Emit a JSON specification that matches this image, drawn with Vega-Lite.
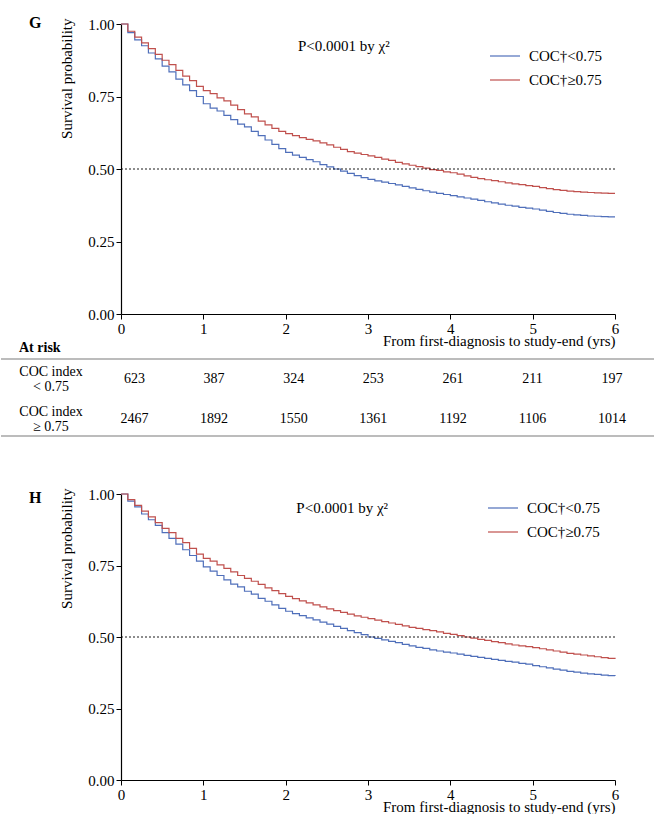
{
  "$schema": "https://vega.github.io/schema/vega-lite/v6.json",
  "autosize": {"type": "pad"},
  "padding": {"top": 15, "left": 0, "right": 0, "bottom": 0},
  "background": "white",
  "bounds": "flush",
  "spacing": 10,
  "resolve": {"scale": {"color": "independent"}, "legend": {"color": "independent"}},
  "config": {
    "font": "Liberation Serif",
    "view": {"stroke": null},
    "axis": {
      "grid": false,
      "domainColor": "black",
      "domainWidth": 1.2,
      "tickColor": "black",
      "tickSize": 5,
      "labelColor": "black",
      "labelFont": "Liberation Serif",
      "labelFontSize": 15,
      "titleFont": "Liberation Serif",
      "titleFontSize": 15,
      "titleFontWeight": "normal",
      "titleColor": "black"
    },
    "legend": {"labelFont": "Liberation Serif", "labelFontSize": 15, "labelColor": "black"},
    "title": {"font": "Liberation Serif"}
  },
  "datasets": {
    "g": [
      {"t": 0, "lo": 1.0, "hi": 1.0},
      {"t": 0.083, "lo": 0.97, "hi": 0.975},
      {"t": 0.167, "lo": 0.945, "hi": 0.955},
      {"t": 0.25, "lo": 0.925, "hi": 0.935},
      {"t": 0.333, "lo": 0.9, "hi": 0.915},
      {"t": 0.417, "lo": 0.88, "hi": 0.895},
      {"t": 0.5, "lo": 0.855, "hi": 0.875},
      {"t": 0.583, "lo": 0.835, "hi": 0.86},
      {"t": 0.667, "lo": 0.81, "hi": 0.84},
      {"t": 0.75, "lo": 0.79, "hi": 0.82},
      {"t": 0.833, "lo": 0.77, "hi": 0.805},
      {"t": 0.917, "lo": 0.75, "hi": 0.785},
      {"t": 1.0, "lo": 0.725, "hi": 0.77},
      {"t": 1.083, "lo": 0.71, "hi": 0.76},
      {"t": 1.167, "lo": 0.7, "hi": 0.745},
      {"t": 1.25, "lo": 0.685, "hi": 0.735},
      {"t": 1.333, "lo": 0.67, "hi": 0.72},
      {"t": 1.417, "lo": 0.655, "hi": 0.705},
      {"t": 1.5, "lo": 0.645, "hi": 0.69},
      {"t": 1.583, "lo": 0.63, "hi": 0.68},
      {"t": 1.667, "lo": 0.615, "hi": 0.665},
      {"t": 1.75, "lo": 0.6, "hi": 0.652},
      {"t": 1.833, "lo": 0.585, "hi": 0.64},
      {"t": 1.917, "lo": 0.57, "hi": 0.63},
      {"t": 2.0, "lo": 0.557, "hi": 0.622},
      {"t": 2.083, "lo": 0.548, "hi": 0.615},
      {"t": 2.167, "lo": 0.54, "hi": 0.608},
      {"t": 2.25, "lo": 0.532, "hi": 0.602},
      {"t": 2.333, "lo": 0.525, "hi": 0.597},
      {"t": 2.417, "lo": 0.515, "hi": 0.59},
      {"t": 2.5, "lo": 0.507, "hi": 0.583},
      {"t": 2.583, "lo": 0.5, "hi": 0.575},
      {"t": 2.667, "lo": 0.493, "hi": 0.568},
      {"t": 2.75, "lo": 0.485, "hi": 0.56},
      {"t": 2.833, "lo": 0.477, "hi": 0.555},
      {"t": 2.917, "lo": 0.47, "hi": 0.55},
      {"t": 3.0, "lo": 0.464, "hi": 0.545},
      {"t": 3.083, "lo": 0.459, "hi": 0.54},
      {"t": 3.167, "lo": 0.455, "hi": 0.534},
      {"t": 3.25, "lo": 0.45, "hi": 0.53},
      {"t": 3.333, "lo": 0.445, "hi": 0.523},
      {"t": 3.417, "lo": 0.44, "hi": 0.518},
      {"t": 3.5, "lo": 0.435, "hi": 0.513},
      {"t": 3.583, "lo": 0.43, "hi": 0.508},
      {"t": 3.667, "lo": 0.425, "hi": 0.503},
      {"t": 3.75, "lo": 0.42, "hi": 0.498},
      {"t": 3.833, "lo": 0.416, "hi": 0.495},
      {"t": 3.917, "lo": 0.412, "hi": 0.49},
      {"t": 4.0, "lo": 0.408, "hi": 0.487},
      {"t": 4.083, "lo": 0.404, "hi": 0.482},
      {"t": 4.167, "lo": 0.4, "hi": 0.476},
      {"t": 4.25, "lo": 0.396, "hi": 0.471},
      {"t": 4.333, "lo": 0.392, "hi": 0.467},
      {"t": 4.417, "lo": 0.387, "hi": 0.463},
      {"t": 4.5, "lo": 0.383, "hi": 0.46},
      {"t": 4.583, "lo": 0.379, "hi": 0.456},
      {"t": 4.667, "lo": 0.375, "hi": 0.452},
      {"t": 4.75, "lo": 0.372, "hi": 0.449},
      {"t": 4.833, "lo": 0.368, "hi": 0.446},
      {"t": 4.917, "lo": 0.365, "hi": 0.443},
      {"t": 5.0, "lo": 0.362, "hi": 0.44},
      {"t": 5.083, "lo": 0.358, "hi": 0.436},
      {"t": 5.167, "lo": 0.354, "hi": 0.432},
      {"t": 5.25, "lo": 0.35, "hi": 0.429},
      {"t": 5.333, "lo": 0.347, "hi": 0.426},
      {"t": 5.417, "lo": 0.344, "hi": 0.424},
      {"t": 5.5, "lo": 0.342, "hi": 0.422},
      {"t": 5.583, "lo": 0.34, "hi": 0.42},
      {"t": 5.667, "lo": 0.338, "hi": 0.419},
      {"t": 5.75, "lo": 0.337, "hi": 0.418},
      {"t": 5.833, "lo": 0.336, "hi": 0.417},
      {"t": 5.917, "lo": 0.335, "hi": 0.416},
      {"t": 6.0, "lo": 0.335, "hi": 0.416}
    ],
    "h": [
      {"t": 0, "lo": 1.0, "hi": 1.0},
      {"t": 0.083, "lo": 0.975, "hi": 0.98},
      {"t": 0.167, "lo": 0.955, "hi": 0.96},
      {"t": 0.25, "lo": 0.93, "hi": 0.94},
      {"t": 0.333, "lo": 0.91, "hi": 0.92},
      {"t": 0.417, "lo": 0.89, "hi": 0.9},
      {"t": 0.5, "lo": 0.865, "hi": 0.88},
      {"t": 0.583, "lo": 0.845, "hi": 0.865},
      {"t": 0.667, "lo": 0.825, "hi": 0.845},
      {"t": 0.75, "lo": 0.805, "hi": 0.83},
      {"t": 0.833, "lo": 0.785, "hi": 0.81},
      {"t": 0.917, "lo": 0.765, "hi": 0.79},
      {"t": 1.0, "lo": 0.745, "hi": 0.775},
      {"t": 1.083, "lo": 0.73, "hi": 0.765},
      {"t": 1.167, "lo": 0.715, "hi": 0.752},
      {"t": 1.25, "lo": 0.7, "hi": 0.74},
      {"t": 1.333, "lo": 0.685, "hi": 0.728},
      {"t": 1.417, "lo": 0.675, "hi": 0.715},
      {"t": 1.5, "lo": 0.66, "hi": 0.705},
      {"t": 1.583, "lo": 0.65, "hi": 0.695},
      {"t": 1.667, "lo": 0.635, "hi": 0.684},
      {"t": 1.75, "lo": 0.625, "hi": 0.672},
      {"t": 1.833, "lo": 0.612, "hi": 0.662},
      {"t": 1.917, "lo": 0.6, "hi": 0.652},
      {"t": 2.0, "lo": 0.59, "hi": 0.642},
      {"t": 2.083, "lo": 0.582, "hi": 0.634},
      {"t": 2.167, "lo": 0.575, "hi": 0.626},
      {"t": 2.25, "lo": 0.567, "hi": 0.619},
      {"t": 2.333, "lo": 0.56, "hi": 0.612},
      {"t": 2.417, "lo": 0.552, "hi": 0.605},
      {"t": 2.5, "lo": 0.545, "hi": 0.598},
      {"t": 2.583, "lo": 0.537, "hi": 0.592},
      {"t": 2.667, "lo": 0.53, "hi": 0.586},
      {"t": 2.75, "lo": 0.522, "hi": 0.58},
      {"t": 2.833, "lo": 0.515, "hi": 0.574},
      {"t": 2.917, "lo": 0.508, "hi": 0.569},
      {"t": 3.0, "lo": 0.5, "hi": 0.564},
      {"t": 3.083, "lo": 0.495, "hi": 0.559},
      {"t": 3.167, "lo": 0.49, "hi": 0.554},
      {"t": 3.25, "lo": 0.485, "hi": 0.549},
      {"t": 3.333, "lo": 0.48, "hi": 0.544},
      {"t": 3.417, "lo": 0.474, "hi": 0.539},
      {"t": 3.5, "lo": 0.469, "hi": 0.534},
      {"t": 3.583, "lo": 0.464, "hi": 0.53},
      {"t": 3.667, "lo": 0.46, "hi": 0.526},
      {"t": 3.75, "lo": 0.455, "hi": 0.522},
      {"t": 3.833, "lo": 0.451, "hi": 0.518},
      {"t": 3.917, "lo": 0.447, "hi": 0.513},
      {"t": 4.0, "lo": 0.444, "hi": 0.509},
      {"t": 4.083, "lo": 0.44, "hi": 0.505},
      {"t": 4.167, "lo": 0.436, "hi": 0.5},
      {"t": 4.25, "lo": 0.432, "hi": 0.496},
      {"t": 4.333, "lo": 0.429, "hi": 0.492},
      {"t": 4.417, "lo": 0.425, "hi": 0.488},
      {"t": 4.5, "lo": 0.422, "hi": 0.484},
      {"t": 4.583, "lo": 0.418, "hi": 0.48},
      {"t": 4.667, "lo": 0.415, "hi": 0.476},
      {"t": 4.75, "lo": 0.412, "hi": 0.472},
      {"t": 4.833, "lo": 0.408, "hi": 0.469},
      {"t": 4.917, "lo": 0.405, "hi": 0.466},
      {"t": 5.0, "lo": 0.4, "hi": 0.463},
      {"t": 5.083, "lo": 0.396, "hi": 0.459},
      {"t": 5.167, "lo": 0.392, "hi": 0.455},
      {"t": 5.25, "lo": 0.388, "hi": 0.451},
      {"t": 5.333, "lo": 0.384, "hi": 0.447},
      {"t": 5.417, "lo": 0.38, "hi": 0.443},
      {"t": 5.5, "lo": 0.377, "hi": 0.44},
      {"t": 5.583, "lo": 0.374, "hi": 0.437},
      {"t": 5.667, "lo": 0.371, "hi": 0.434},
      {"t": 5.75, "lo": 0.369, "hi": 0.431},
      {"t": 5.833, "lo": 0.367, "hi": 0.428},
      {"t": 5.917, "lo": 0.365, "hi": 0.425},
      {"t": 6.0, "lo": 0.364, "hi": 0.423}
    ],
    "risk": [
      {"group": "lo", "row": 1, "year": 0, "n": 623},
      {"group": "lo", "row": 1, "year": 1, "n": 387},
      {"group": "lo", "row": 1, "year": 2, "n": 324},
      {"group": "lo", "row": 1, "year": 3, "n": 253},
      {"group": "lo", "row": 1, "year": 4, "n": 261},
      {"group": "lo", "row": 1, "year": 5, "n": 211},
      {"group": "lo", "row": 1, "year": 6, "n": 197},
      {"group": "hi", "row": 2, "year": 0, "n": 2467},
      {"group": "hi", "row": 2, "year": 1, "n": 1892},
      {"group": "hi", "row": 2, "year": 2, "n": 1550},
      {"group": "hi", "row": 2, "year": 3, "n": 1361},
      {"group": "hi", "row": 2, "year": 4, "n": 1192},
      {"group": "hi", "row": 2, "year": 5, "n": 1106},
      {"group": "hi", "row": 2, "year": 6, "n": 1014}
    ],
    "riskLabels": [
      {"row": 1, "label": "COC index\n< 0.75"},
      {"row": 2, "label": "COC index\n≥ 0.75"}
    ],
    "one": [{}]
  },
  "vconcat": [
    {
      "width": 494,
      "height": 290,
      "title": {"text": "G", "anchor": "start", "frame": "group", "dx": -92, "offset": 0, "dy": 14, "fontSize": 16, "fontWeight": "bold", "color": "black"},
      "layer": [
        {
          "data": {"name": "g"},
          "transform": [{"fold": ["lo", "hi"], "as": ["grp", "s"]}],
          "mark": {"type": "line", "interpolate": "step-after", "strokeWidth": 1.2},
          "encoding": {
            "x": {"field": "t", "type": "quantitative", "scale": {"domain": [0, 6], "nice": false, "zero": false},
              "axis": {"title": "From first-diagnosis to study-end (yrs)", "values": [0, 1, 2, 3, 4, 5, 6], "format": "d", "labelPadding": 2, "labelFlush": false, "titleAnchor": "end", "titleAlign": "right", "titleX": 494, "titleY": 31, "titleBaseline": "alphabetic"}},
            "y": {"field": "s", "type": "quantitative", "scale": {"domain": [0, 1], "nice": false},
              "axis": {"title": "Survival probability", "values": [0, 0.25, 0.5, 0.75, 1], "format": ".2f", "labelPadding": 2, "titleAngle": -90, "titleAlign": "right", "titleBaseline": "middle", "titleX": -55, "titleY": -6}},
            "color": {"field": "grp", "type": "nominal", "scale": {"domain": ["lo", "hi"], "range": ["#4f6fba", "#c0504d"]},
              "legend": {"title": null, "orient": "none", "legendX": 368, "legendY": 16, "symbolType": "stroke", "symbolSize": 900, "symbolStrokeWidth": 1.2, "labelOffset": 8, "rowPadding": -9, "labelExpr": "datum.value == 'lo' ? 'COC†<0.75' : 'COC†≥0.75'"}}
          }
        },
        {
          "data": {"name": "one"},
          "mark": {"type": "rule", "color": "black", "strokeDash": [2, 2], "strokeWidth": 0.9},
          "encoding": {"y": {"datum": 0.5}, "x": {"datum": 0}, "x2": {"datum": 6}}
        },
        {
          "data": {"name": "one"},
          "mark": {"type": "text", "align": "left", "baseline": "middle", "fontSize": 15, "color": "black"},
          "encoding": {"x": {"datum": 2.15}, "y": {"datum": 0.925}, "text": {"value": "P<0.0001 by χ²"}}
        }
      ]
    },
    {
      "width": 494,
      "height": 160,
      "layer": [
        {
          "data": {"name": "risk"},
          "mark": {"type": "text", "fontSize": 14, "color": "black", "baseline": "middle"},
          "encoding": {
            "x": {"field": "year", "type": "quantitative", "scale": {"domain": [-0.1696, 6.0364], "nice": false, "zero": false}, "axis": null},
            "y": {"field": "row", "type": "quantitative", "scale": {"domain": [-0.375, 3.625], "nice": false, "zero": false, "reverse": true}, "axis": null},
            "text": {"field": "n", "type": "quantitative", "format": "d"}
          }
        },
        {
          "data": {"name": "riskLabels"},
          "mark": {"type": "text", "fontSize": 14, "color": "black", "align": "center", "baseline": "middle", "lineBreak": "\n", "lineHeight": 15, "dy": -7},
          "encoding": {
            "x": {"datum": -1.049},
            "y": {"field": "row", "type": "quantitative"},
            "text": {"field": "label"}
          }
        },
        {
          "data": {"name": "one"},
          "mark": {"type": "text", "fontSize": 14, "fontWeight": "bold", "color": "black", "align": "left", "baseline": "middle"},
          "encoding": {"x": {"datum": -1.451}, "y": {"datum": 0.225}, "text": {"value": "At risk"}}
        },
        {
          "data": {"name": "one"},
          "mark": {"type": "rule", "color": "#a6a6a6", "strokeWidth": 1.5},
          "encoding": {"x": {"datum": -1.677}, "x2": {"datum": 6.539}, "y": {"datum": 0.5}}
        },
        {
          "data": {"name": "one"},
          "mark": {"type": "rule", "color": "#a6a6a6", "strokeWidth": 1.5},
          "encoding": {"x": {"datum": -1.677}, "x2": {"datum": 6.539}, "y": {"datum": 2.425}}
        }
      ]
    },
    {
      "width": 494,
      "height": 286,
      "title": {"text": "H", "anchor": "start", "frame": "group", "dx": -92, "offset": 0, "dy": 19, "fontSize": 16, "fontWeight": "bold", "color": "black"},
      "layer": [
        {
          "data": {"name": "h"},
          "transform": [{"fold": ["lo", "hi"], "as": ["grp", "s"]}],
          "mark": {"type": "line", "interpolate": "step-after", "strokeWidth": 1.2},
          "encoding": {
            "x": {"field": "t", "type": "quantitative", "scale": {"domain": [0, 6], "nice": false, "zero": false},
              "axis": {"title": "From first-diagnosis to study-end (yrs)", "values": [0, 1, 2, 3, 4, 5, 6], "format": "d", "labelPadding": 2, "labelFlush": false, "titleAnchor": "end", "titleAlign": "right", "titleX": 494, "titleY": 31, "titleBaseline": "alphabetic"}},
            "y": {"field": "s", "type": "quantitative", "scale": {"domain": [0, 1], "nice": false},
              "axis": {"title": "Survival probability", "values": [0, 0.25, 0.5, 0.75, 1], "format": ".2f", "labelPadding": 2, "titleAngle": -90, "titleAlign": "right", "titleBaseline": "middle", "titleX": -55, "titleY": -6}},
            "color": {"field": "grp", "type": "nominal", "scale": {"domain": ["lo", "hi"], "range": ["#4f6fba", "#c0504d"]},
              "legend": {"title": null, "orient": "none", "legendX": 366, "legendY": -2, "symbolType": "stroke", "symbolSize": 900, "symbolStrokeWidth": 1.2, "labelOffset": 8, "rowPadding": -10, "labelExpr": "datum.value == 'lo' ? 'COC†<0.75' : 'COC†≥0.75'"}}
          }
        },
        {
          "data": {"name": "one"},
          "mark": {"type": "rule", "color": "black", "strokeDash": [2, 2], "strokeWidth": 0.9},
          "encoding": {"y": {"datum": 0.5}, "x": {"datum": 0}, "x2": {"datum": 6}}
        },
        {
          "data": {"name": "one"},
          "mark": {"type": "text", "align": "left", "baseline": "middle", "fontSize": 15, "color": "black"},
          "encoding": {"x": {"datum": 2.13}, "y": {"datum": 0.95}, "text": {"value": "P<0.0001 by χ²"}}
        }
      ]
    }
  ]
}
